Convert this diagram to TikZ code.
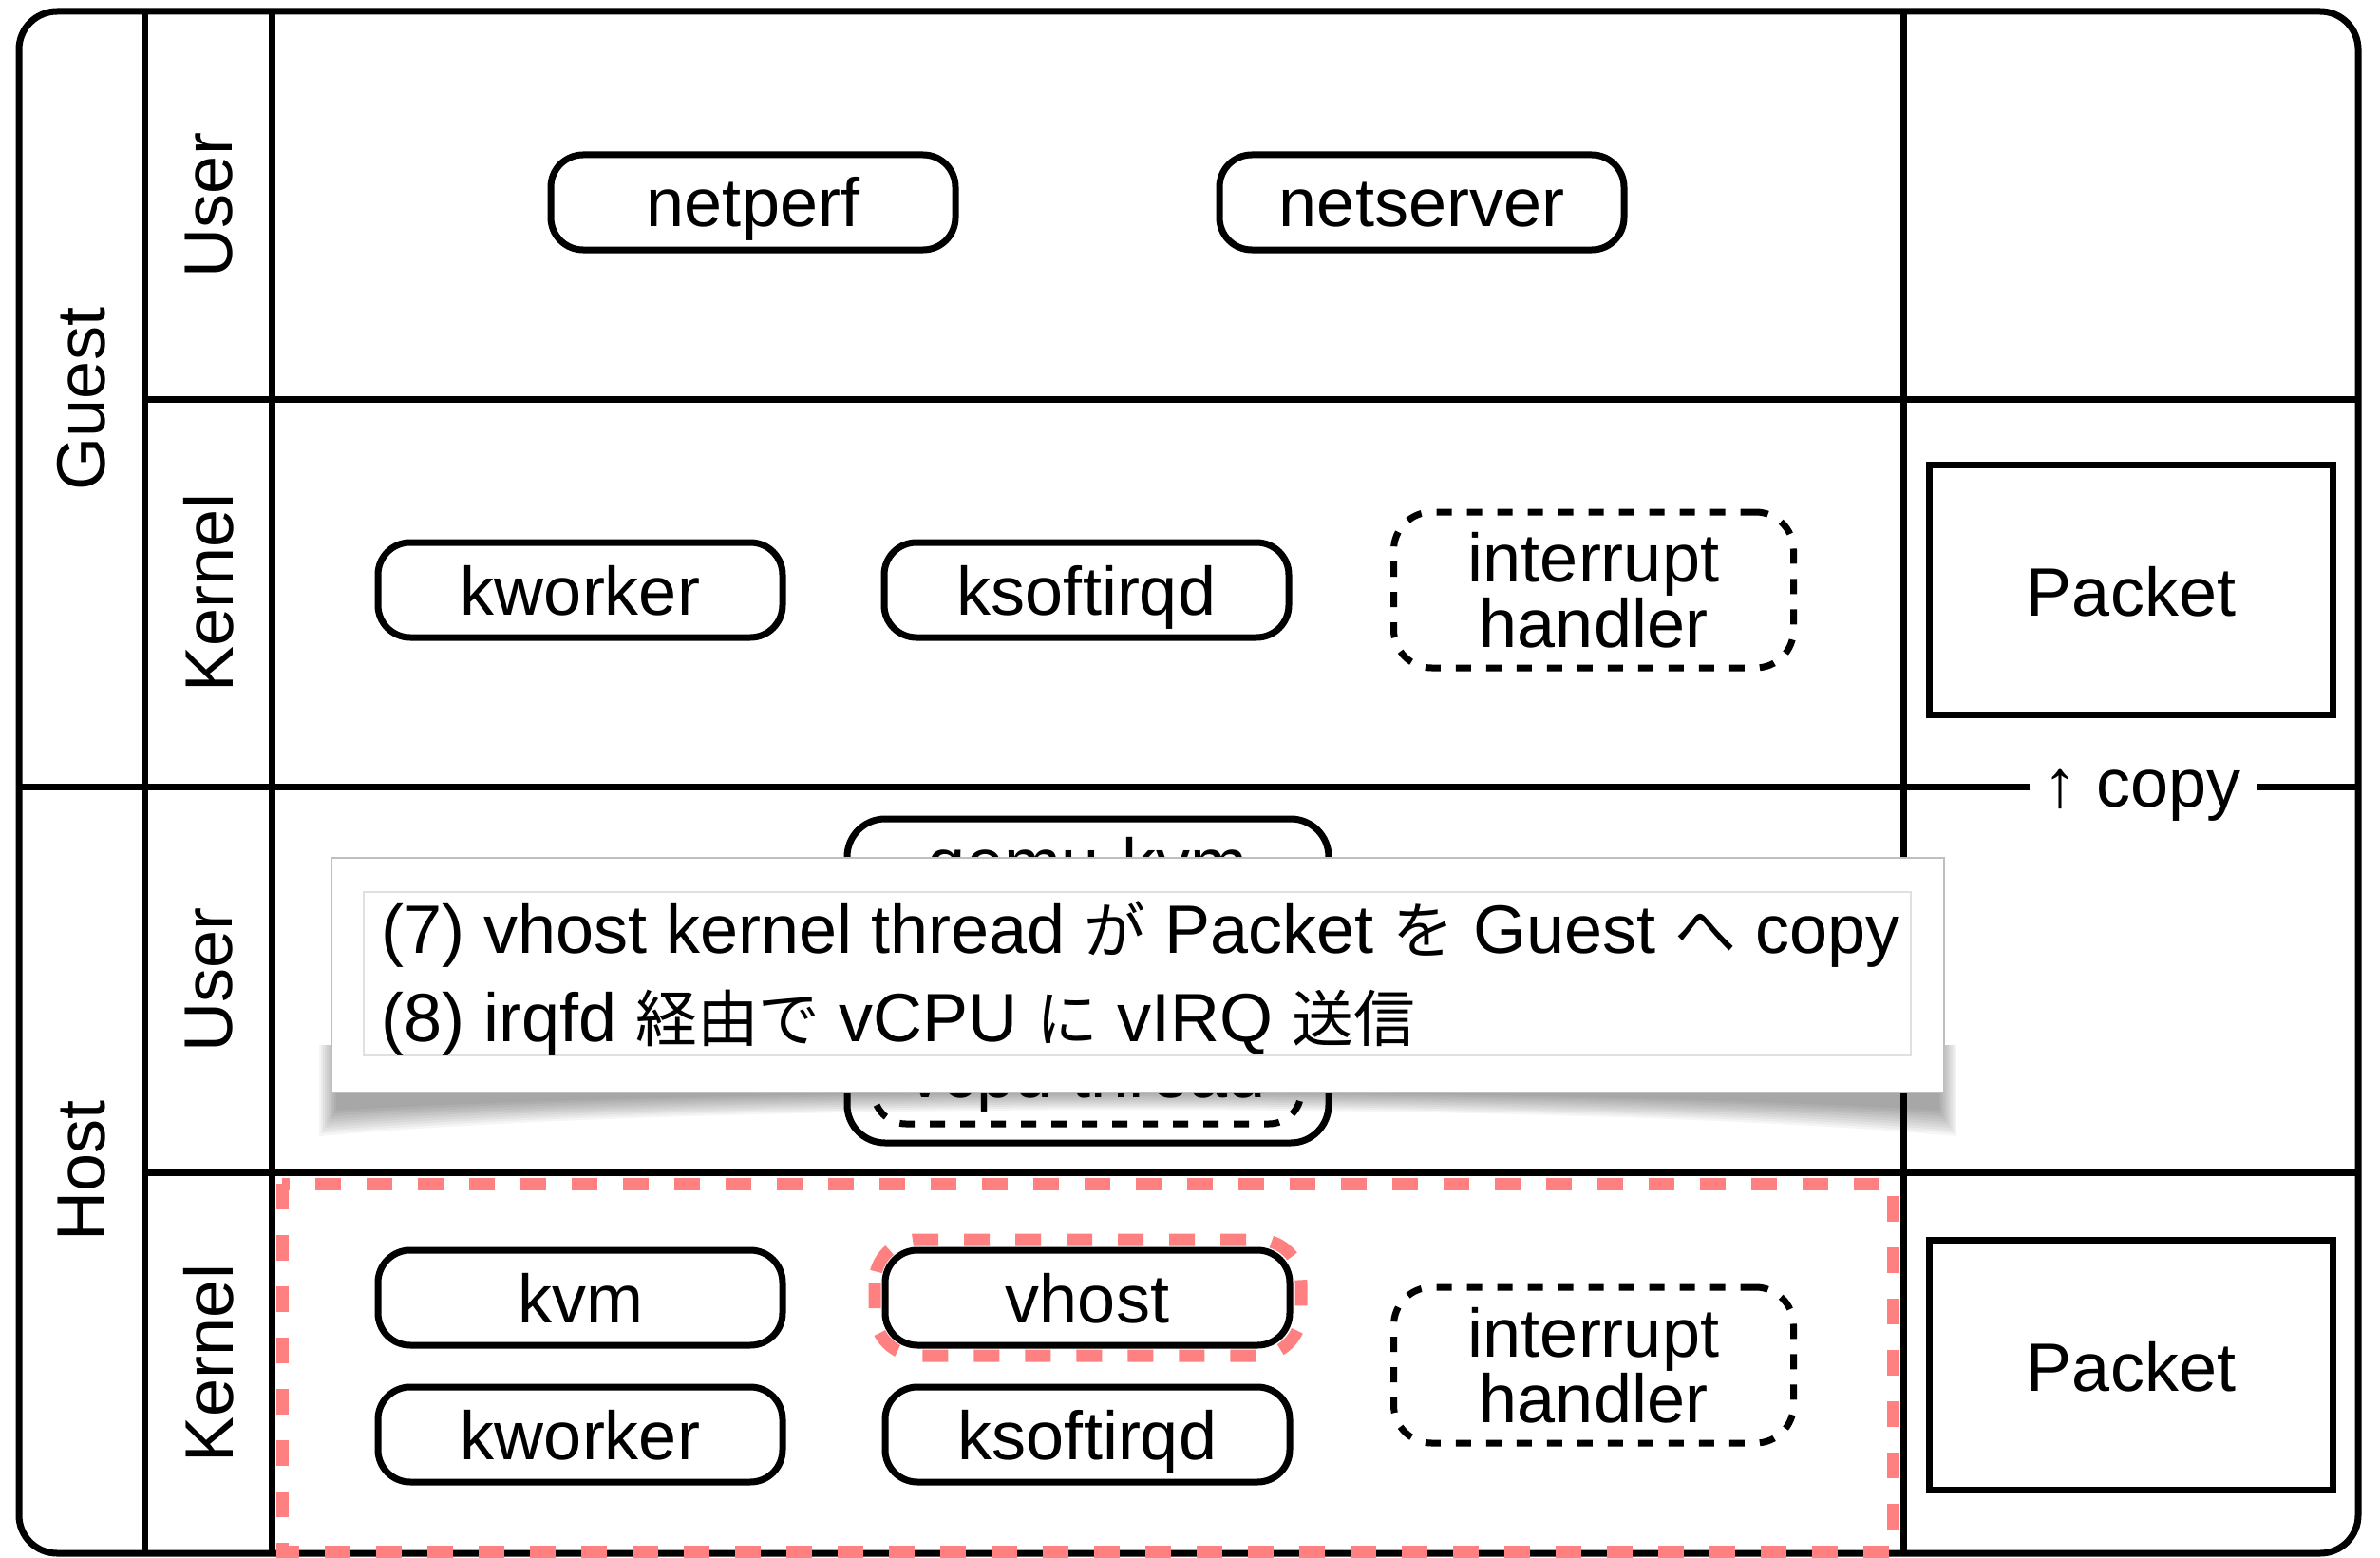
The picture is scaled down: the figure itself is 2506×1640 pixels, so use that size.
\documentclass[tikz,border=0pt]{standalone}
\usepackage{fontspec}
\setmainfont{Liberation Sans}
\newfontfamily\cjkf{Noto Sans CJK JP}[Scale=0.9]
\usetikzlibrary{fit}
\definecolor{hlred}{RGB}{255,128,128}
\begin{document}
\begin{tikzpicture}[x=1pt,y=-1pt,
  every node/.style={font=\fontsize{72}{69}\selectfont, inner sep=0pt},
  grid/.style={line width=7pt, draw=black},
  proc/.style={draw, line width=7pt, rounded corners=34pt, minimum width=426pt, minimum height=100pt, text height=54pt, text depth=2pt},
  dproc/.style={draw, line width=7pt, rounded corners=40pt, dash pattern=on 16pt off 16pt, minimum width=421pt, minimum height=164pt, align=center},
  packet/.style={draw, line width=7pt, minimum width=425pt, minimum height=263pt, text height=54pt, text depth=0pt},
  lab/.style={rotate=90},
  hl/.style={draw=hlred, line width=13pt, dash pattern=on 27pt off 27pt},
]
\useasboundingbox (0,0) rectangle (2506,1640);
\fill[white] (0,0) rectangle (2506,1640);

% frame and grid
\draw[grid, rounded corners=40pt] (20,12) rectangle (2483,1635);
\draw[grid] (152,12) -- (152,1635);
\draw[grid] (286,12) -- (286,1635);
\draw[grid] (2004,12) -- (2004,1635);
\draw[grid] (152,420) -- (2483,420);
\draw[grid] (20,828) -- (2483,828);
\draw[grid] (152,1234) -- (2483,1234);
\node[fill=white, minimum width=239pt, minimum height=20pt, text height=54pt, text depth=12pt] (copy) at (2256,828) {↑ copy};

% side labels
\node[lab] (guest) at (86,420) {Guest};
\node[lab] (host) at (86,1232) {Host};
\node[lab] (guser) at (220,216) {User};
\node[lab] (gkernel) at (220,624) {Kernel};
\node[lab] (huser) at (220,1031) {User};
\node[lab] (hkernel) at (220,1435) {Kernel};

% highlights (below the boxes)
\draw[hl] (297,1246) rectangle (1993,1633);
\draw[hl, rounded corners=45pt] (921,1305) rectangle (1370,1427);

% guest
\node[proc] (netperf) at (793,213) {netperf};
\node[proc] (netserver) at (1497,213) {netserver};
\node[proc] (gkworker) at (611,621) {kworker};
\node[proc] (gksoft) at (1144,621) {ksoftirqd};
\node[dproc] (gint) at (1678,621) {interrupt\\handler};
\node[packet] (gpacket) at (2244,621) {Packet};

% host
\node[proc] (kvm) at (611,1366) {kvm};
\node[proc] (hkworker) at (611,1510) {kworker};
\node[proc] (vhost) at (1145,1366) {vhost};
\node[proc] (hksoft) at (1145,1510) {ksoftirqd};
\node[dproc] (hint) at (1678,1437) {interrupt\\handler};
\node[packet] (hpacket) at (2244,1437) {Packet};

% qemu-kvm
\node[draw, line width=7pt, rounded corners=40pt, minimum width=507pt, minimum height=341pt] (qemu) at (1145.5,1032.5) {};
\node[anchor=base] (qemulabel) at (1145,933) {qemu-kvm};
\node[dproc, rounded corners=34pt, minimum width=450pt, minimum height=98pt, text height=54pt, text depth=12pt] (vcpu) at (1145,1134) {vcpu thread};

% overlay shadow
\foreach \k in {0,...,9}{
  \fill[black, opacity=0.04] ({336+2*\k},1100) -- ({336+2*\k},{1196-3*\k})
    .. controls ({736+2*\k},{1159-1.67*\k}) and ({1660-2*\k},{1159-1.67*\k}) .. ({2060-2*\k},{1196-3*\k})
    -- ({2060-2*\k},1100) -- cycle;
}
% overlay
\node[fill=white, draw=black!25, line width=1.5pt, minimum width=1698pt, minimum height=247pt] (overlay) at (1198,1026.5) {};
\node[draw=black!12, line width=1.5pt, minimum width=1629pt, minimum height=172pt] (inner) at (1197.5,1025) {};
\node[anchor=base west] (line1) at (401,1003) {(7) vhost kernel thread {\cjkf が} Packet {\cjkf を} Guest {\cjkf へ} copy};
\node[anchor=base west] (line2) at (401,1096) {(8) irqfd {\cjkf 経由で} vCPU {\cjkf に} vIRQ {\cjkf 送信}};
\end{tikzpicture}
\end{document}
